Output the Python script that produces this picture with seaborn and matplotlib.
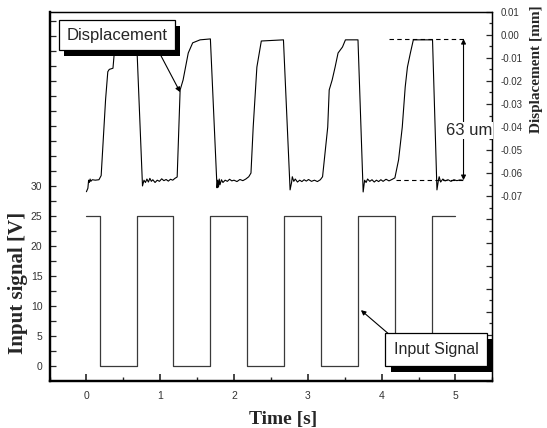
import numpy as np
import pandas as pd
import matplotlib
matplotlib.use("Agg")
import matplotlib.pyplot as plt
import matplotlib.patheffects as pe
from matplotlib import font_manager
from matplotlib.ticker import FixedLocator, FuncFormatter
import seaborn as sns

# input signal (square wave, V)
t_in = [0, 0.18, 0.18, 0.68, 0.68, 1.18, 1.18, 1.68, 1.68, 2.18, 2.18,
        2.68, 2.68, 3.18, 3.18, 3.68, 3.68, 4.18, 4.18, 4.68, 4.68, 5.0]
v_in = [25, 25, 0, 0, 25, 25, 0, 0, 25, 25, 0,
        0, 25, 25, 0, 0, 25, 25, 0, 0, 25, 25]

# displacement (mm)
t_disp = [0.00, 0.02, 0.03, 0.04, 0.05, 0.06, 0.08, 0.12, 0.17, 0.20,
          0.22, 0.26, 0.29, 0.31, 0.36, 0.38, 0.42, 0.46, 0.66,
          0.68, 0.76,
          0.78, 0.80, 0.82, 0.84, 0.86, 0.88, 0.90, 0.93, 0.96, 0.99, 1.02, 1.05, 1.08, 1.11, 1.14, 1.17, 1.20,
          1.23, 1.27, 1.31, 1.38, 1.44, 1.54, 1.68,
          1.77,
          1.78, 1.79, 1.80, 1.81, 1.83, 1.85, 1.88, 1.91, 1.94, 1.97, 2.00, 2.04, 2.08, 2.12, 2.16, 2.20,
          2.23, 2.26, 2.31, 2.37, 2.67,
          2.76,
          2.78, 2.79, 2.81, 2.83, 2.86, 2.89, 2.92, 2.95, 2.98, 3.01, 3.05, 3.09, 3.13, 3.17, 3.20,
          3.27, 3.29, 3.33, 3.37, 3.41, 3.47, 3.51, 3.68,
          3.75,
          3.77, 3.79, 3.81, 3.84, 3.87, 3.90, 3.93, 3.96, 3.99, 4.02, 4.06, 4.10, 4.14, 4.18,
          4.23, 4.28, 4.32, 4.35, 4.39, 4.43, 4.69,
          4.75,
          4.77, 4.78, 4.80, 4.83, 4.86, 4.90, 4.94, 4.98, 5.02, 5.06, 5.10]
d_disp = [-0.0680, -0.0665, -0.0630, -0.0640, -0.0625, -0.0635, -0.0628, -0.0630, -0.0628, -0.0610,
          -0.0500, -0.0280, -0.0160, -0.0150, -0.0145, -0.0070, -0.0030, -0.0022, -0.0022,
          -0.0022, -0.0655,
          -0.0630, -0.0640, -0.0625, -0.0638, -0.0622, -0.0635, -0.0628, -0.0640, -0.0630, -0.0635, -0.0624, -0.0632, -0.0627, -0.0634, -0.0626, -0.0630, -0.0622,
          -0.0616, -0.0239, -0.0196, -0.0079, -0.0035, -0.0022, -0.0018,
          -0.0663,
          -0.0630, -0.0660, -0.0625, -0.0650, -0.0628, -0.0640, -0.0630, -0.0635, -0.0626, -0.0633, -0.0630, -0.0636, -0.0627, -0.0632, -0.0625, -0.0615,
          -0.0599, -0.0400, -0.0140, -0.0027, -0.0022,
          -0.0672,
          -0.0640, -0.0615, -0.0635, -0.0625, -0.0638, -0.0630, -0.0636, -0.0628, -0.0634, -0.0627, -0.0635, -0.0630, -0.0636, -0.0628, -0.0615,
          -0.0400, -0.0239, -0.0196, -0.0140, -0.0079, -0.0053, -0.0022, -0.0022,
          -0.0681,
          -0.0630, -0.0640, -0.0625, -0.0635, -0.0628, -0.0638, -0.0630, -0.0636, -0.0628, -0.0635, -0.0626, -0.0633, -0.0627, -0.0620,
          -0.0542, -0.0400, -0.0226, -0.0140, -0.0079, -0.0022, -0.0022,
          -0.0672,
          -0.0630, -0.0615, -0.0638, -0.0625, -0.0633, -0.0628, -0.0635, -0.0628, -0.0632, -0.0629, -0.0630]

x_ticks = [0, 1, 2, 3, 4, 5]
v_labels = [0, 5, 10, 15, 20, 25, 30]
d_labels = [-0.07, -0.06, -0.05, -0.04, -0.03, -0.02, -0.01, 0.00, 0.01]

sns.set_style("ticks")
try:
    font_manager.findfont(font_manager.FontProperties(family="Liberation Sans Narrow"),
                          fallback_to_default=False)
    box_font = "Liberation Sans Narrow"
except Exception:
    box_font = "Liberation Sans"
plt.rcParams["font.family"] = ["Liberation Sans", "DejaVu Sans"]

df_in = pd.DataFrame({"t": t_in, "v": v_in})
df_d = pd.DataFrame({"t": t_disp, "d": d_disp})

fig = plt.figure(figsize=(5.47, 4.28), dpi=100)
ax = fig.add_axes([0.0905, 0.1098, 0.8095, 0.8629])
ax2 = ax.twinx()

sns.lineplot(data=df_in, x="t", y="v", estimator=None, sort=False,
             color="#3a3a3a", linewidth=0.9, ax=ax)
sns.lineplot(data=df_d, x="t", y="d", estimator=None, sort=False,
             color="black", linewidth=0.8, ax=ax2)

ax.set_xlim(-0.5, 5.5)
ax.set_ylim(-2.5, 59)
ax2.set_ylim(-0.15, 0.01)

# ticks
ax.set_xticks(x_ticks)
ax.set_xticks(np.arange(-0.5, 5.6, 0.5), minor=True)
ax.yaxis.set_major_locator(FixedLocator(np.arange(0, 56, 5)))
ax.yaxis.set_minor_locator(FixedLocator(np.arange(2.5, 58, 5)))
ax.yaxis.set_major_formatter(FuncFormatter(lambda v, p: f"{v:.0f}" if v <= max(v_labels) else ""))
ax2.yaxis.set_major_locator(FixedLocator(np.arange(-0.15, 0.0101, 0.01)))
ax2.yaxis.set_minor_locator(FixedLocator(np.arange(-0.145, 0.01, 0.01)))
ax2.yaxis.set_major_formatter(FuncFormatter(lambda v, p: f"{v:.2f}" if v >= min(d_labels) - 0.0005 else ""))

ax.tick_params(axis="x", which="major", direction="in", length=5, width=1.2,
               labelsize=7.5, pad=7, top=False, labelcolor="#333333")
ax.tick_params(axis="x", which="minor", direction="in", length=3, width=1.0, top=False)
ax.tick_params(axis="y", which="both", direction="in", length=4, width=0.9,
               labelsize=7.5, pad=5, right=False, labelcolor="#333333")
ax2.tick_params(axis="y", which="major", direction="in", length=4.5, width=0.9,
                labelsize=7, pad=6, labelcolor="#333333")
ax2.tick_params(axis="y", which="minor", direction="in", length=2.5, width=0.9)

for a in (ax, ax2):
    a.spines["left"].set_linewidth(1.6)
    a.spines["bottom"].set_linewidth(1.6)
    a.spines["top"].set_linewidth(0.9)
    a.spines["right"].set_linewidth(0.9)
    for s in a.spines.values():
        s.set_color("black")
        s.set_visible(True)

# axis labels
serif = ["Liberation Serif", "DejaVu Serif"]
ax.set_xlabel("Time [s]", family=serif, fontweight="bold", fontsize=14)
ax.xaxis.set_label_coords(0.528, -0.08)
ax.set_ylabel("Input signal [V]", family=serif, fontweight="bold", fontsize=15)
ax.yaxis.set_label_coords(-0.049, 0.266)
ax2.set_ylabel("Displacement [mm]", rotation=90, family=serif, fontweight="bold", fontsize=11)
ax2.yaxis.set_label_coords(1.085, 0.843)

# 63 um marker
ax2.plot([4.10, 5.14], [-0.0018, -0.0018], ls="--", color="black", lw=0.8, dashes=(4, 3))
ax2.plot([4.19, 5.14], [-0.0630, -0.0630], ls="--", color="black", lw=0.8, dashes=(4, 3))
ax2.annotate("", xy=(5.11, -0.0018), xytext=(5.11, -0.0630),
             arrowprops=dict(arrowstyle="<|-|>", color="black", lw=0.8,
                             mutation_scale=7, shrinkA=0, shrinkB=0))
ax2.text(5.19, -0.0415, "63 um", fontsize=12, ha="center", va="center",
         family=[box_font, "DejaVu Sans"], zorder=6,
         bbox=dict(facecolor="white", edgecolor="none", pad=0.5))

# callout boxes with drop shadow
shadow = [pe.withSimplePatchShadow(offset=(4, -4), shadow_rgbFace="black", alpha=1.0)]
ax2.annotate("", xy=(1.27, 45.6), xytext=(0.97, 52.6), xycoords=ax.transData,
             textcoords=ax.transData,
             arrowprops=dict(arrowstyle="-|>", color="black", lw=0.8,
                             mutation_scale=7, shrinkA=0, shrinkB=0))
t1 = ax2.text(0.41, 55.1, "Displacement", transform=ax.transData, fontsize=12,
              ha="center", va="center", family=[box_font, "DejaVu Sans"], zorder=8,
              bbox=dict(boxstyle="square,pad=0.45", facecolor="white",
                        edgecolor="black", linewidth=0.9))
t1.get_bbox_patch().set_path_effects(shadow)

ax2.annotate("", xy=(3.72, 9.3), xytext=(4.09, 5.4), xycoords=ax.transData,
             textcoords=ax.transData,
             arrowprops=dict(arrowstyle="-|>", color="black", lw=0.8,
                             mutation_scale=7, shrinkA=0, shrinkB=0))
t2 = ax2.text(4.74, 2.7, "Input Signal", transform=ax.transData, fontsize=11.5,
              ha="center", va="center", family=[box_font, "DejaVu Sans"], zorder=8,
              bbox=dict(boxstyle="square,pad=0.55", facecolor="white",
                        edgecolor="black", linewidth=0.9))
t2.get_bbox_patch().set_path_effects(shadow)

fig.savefig("out.png", dpi=100)
